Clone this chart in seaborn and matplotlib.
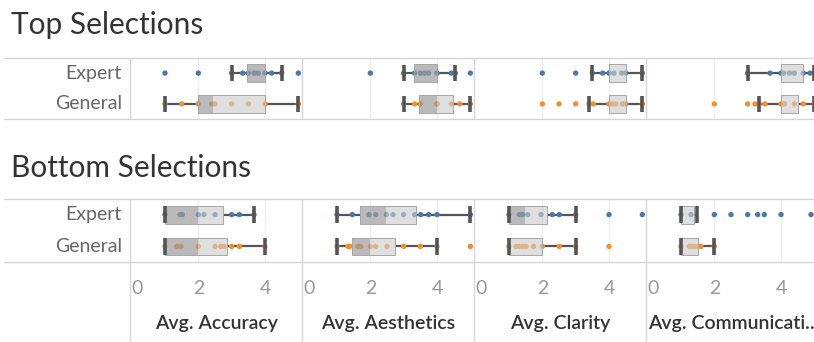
import pandas as pd
import matplotlib.pyplot as plt
from matplotlib.lines import Line2D
import seaborn as sns

# Chart data
metrics = ['Accuracy', 'Aesthetics', 'Clarity', 'Communication']
axis_labels = ['Avg. Accuracy', 'Avg. Aesthetics', 'Avg. Clarity', 'Avg. Communicati..']
groups = ['Expert', 'General']
sections = ['Top Selections', 'Bottom Selections']
x_ticks = [0, 2, 4]

# individual averages (dots), one list per metric
top_expert_pts = [
    [1.0, 2.0, 3.0, 3.33, 3.5, 3.67, 3.8, 4.0, 4.2, 4.5, 5.0],
    [2.0, 3.0, 3.33, 3.5, 3.63, 3.75, 4.0, 4.43, 4.55, 5.0],
    [2.0, 3.0, 3.5, 3.81, 4.0, 4.15, 4.38, 4.5, 5.0],
    [3.0, 3.67, 4.0, 4.08, 4.25, 4.4, 4.67, 4.87, 5.0],
]
top_general_pts = [
    [1.0, 1.5, 2.0, 2.4, 2.5, 3.0, 3.5, 4.0, 5.0],
    [3.0, 3.33, 3.5, 4.0, 4.0, 4.43, 4.68, 5.0],
    [2.0, 2.5, 3.0, 3.4, 3.53, 4.0, 4.1, 4.2, 4.4, 4.5, 5.0],
    [2.0, 3.0, 3.22, 3.35, 3.52, 4.0, 4.1, 4.4, 4.67, 5.0],
]
bottom_expert_pts = [
    [1.0, 1.45, 1.52, 2.0, 2.17, 2.5, 3.0, 3.23, 3.67],
    [1.0, 1.46, 1.96, 2.16, 2.48, 2.68, 3.0, 3.33, 3.51, 3.75, 4.0, 5.0],
    [1.0, 1.31, 1.41, 1.56, 1.96, 2.3, 2.51, 3.0, 4.0, 5.0],
    [1.0, 1.3, 2.0, 2.5, 3.0, 3.3, 3.5, 4.0, 4.9],
]
bottom_general_pts = [
    [1.0, 1.35, 1.48, 2.0, 2.5, 2.67, 2.77, 3.0, 3.23, 4.0],
    [1.0, 1.33, 1.38, 1.63, 1.71, 2.0, 2.16, 2.5, 3.0, 3.5, 4.0, 5.0],
    [1.0, 1.21, 1.31, 1.41, 1.51, 1.74, 2.0, 2.51, 3.0, 4.0],
    [1.0, 1.25, 1.3, 1.4, 1.5, 1.6, 2.0],
]

# box stats per metric: [whisker low, q1, median, q3, whisker high]
top_expert_box = [
    [3.0, 3.45, 4.0, 4.0, 4.5],
    [3.0, 3.31, 4.0, 4.0, 4.55],
    [3.5, 4.0, 4.0, 4.5, 5.0],
    [3.0, 4.0, 4.0, 4.67, 5.0],
]
top_general_box = [
    [1.0, 2.0, 2.45, 4.0, 5.0],
    [3.0, 3.46, 4.0, 4.48, 5.0],
    [3.4, 4.0, 4.0, 4.5, 5.0],
    [3.35, 4.0, 4.0, 4.5, 5.0],
]
bottom_expert_box = [
    [1.0, 1.0, 2.0, 2.73, 3.67],
    [1.0, 1.7, 2.46, 3.38, 5.0],
    [1.0, 1.0, 1.49, 2.14, 3.0],
    [1.0, 1.0, 1.0, 1.38, 1.47],
]
bottom_general_box = [
    [1.0, 1.0, 2.0, 2.87, 4.0],
    [1.0, 1.46, 2.0, 2.73, 4.0],
    [1.0, 1.0, 1.0, 2.0, 3.0],
    [1.0, 1.0, 1.0, 1.5, 2.0],
]

points = {
    ('Top Selections', 'Expert'): top_expert_pts,
    ('Top Selections', 'General'): top_general_pts,
    ('Bottom Selections', 'Expert'): bottom_expert_pts,
    ('Bottom Selections', 'General'): bottom_general_pts,
}
boxes = {
    ('Top Selections', 'Expert'): top_expert_box,
    ('Top Selections', 'General'): top_general_box,
    ('Bottom Selections', 'Expert'): bottom_expert_box,
    ('Bottom Selections', 'General'): bottom_general_box,
}

rows = []
for (sec, grp), lists in points.items():
    for m, vals in zip(metrics, lists):
        for v in vals:
            rows.append({'section': sec, 'group': grp, 'metric': m, 'value': v,
                         'row': groups.index(grp)})
df = pd.DataFrame(rows)

sns.set_theme(style='white')
plt.rcParams['font.family'] = ['Lato', 'DejaVu Sans']

palette = {'Expert': '#4e79a7', 'General': '#f28e2b'}
W, H = 814, 342
fig = plt.figure(figsize=(W / 100, H / 100), dpi=100)

panel_x = [130, 302, 474, 646]
panel_w = 172
sec_y = {'Top Selections': (58, 119), 'Bottom Selections': (199, 262)}
title_base = {'Top Selections': 34, 'Bottom Selections': 177}
grid_c = '#d6d6d6'


def fline(x0, y0, x1, y1, color=grid_c, lw=1.0):
    fig.add_artist(Line2D([x0 / W, x1 / W], [1 - y0 / H, 1 - y1 / H],
                          transform=fig.transFigure, color=color, lw=lw))


for sec in sections:
    y0, y1 = sec_y[sec]
    fig.text(11 / W, 1 - title_base[sec] / H, sec, fontsize=21.5, color='#333333',
             va='baseline', ha='left')
    for gi, grp in enumerate(groups):
        yc = y0 + (y1 - y0) * (0.5 + gi) / 2.0
        fig.text(122 / W, 1 - yc / H, grp, fontsize=14, color='#666666',
                 ha='right', va='center')

    for mi, m in enumerate(metrics):
        ax = fig.add_axes([panel_x[mi] / W, 1 - y1 / H, panel_w / W, (y1 - y0) / H])
        ax.set_facecolor('none')
        for t in [2, 4]:
            ax.axvline(t, color='#eeeeee', lw=1, zorder=0)
        sub = df[(df.section == sec) & (df.metric == m)]
        for gi, grp in enumerate(groups):
            lo, q1, med, q3, hi = boxes[(sec, grp)][mi]
            ax.hlines(gi, lo, q1, color='#555555', lw=1.6, zorder=1)
            ax.hlines(gi, q3, hi, color='#555555', lw=1.6, zorder=1)
        sns.scatterplot(data=sub, x='value', y='row', hue='group', palette=palette,
                        s=15, linewidth=0, legend=False, ax=ax, zorder=2)
        for gi, grp in enumerate(groups):
            lo, q1, med, q3, hi = boxes[(sec, grp)][mi]
            bh = 0.56
            ax.barh(gi, med - q1, left=q1, height=bh, color='#9a9a9a', alpha=0.68,
                    lw=0, zorder=3)
            ax.barh(gi, q3 - med, left=med, height=bh, color='#cccccc', alpha=0.62,
                    lw=0, zorder=3)
            ax.barh(gi, q3 - q1, left=q1, height=bh, fill=False,
                    edgecolor='#a6a6a6', lw=0.7, zorder=3.5)
            ax.vlines([lo, hi], gi - 0.27, gi + 0.27, color='#555555', lw=2.6, zorder=4)
        ax.set_xlim(-0.05, 5.11)
        ax.set_ylim(1.49, -0.49)
        ax.set_xlabel('')
        ax.set_ylabel('')
        ax.set_yticks([])
        for s in ax.spines.values():
            s.set_visible(False)
        if sec == 'Bottom Selections':
            ax.set_xticks(x_ticks)
            ax.set_xticklabels([str(t) for t in x_ticks])
            ax.tick_params(axis='x', length=0, pad=13, labelsize=14, labelcolor='#999999')
            ax.get_xticklabels()[0].set_ha('left')
        else:
            ax.set_xticks([])

    # section frame lines
    fline(4, y0, W, y0)
    fline(4, y1, W, y1)
    for px in panel_x:
        fline(px, y0, px, y1)

# axis area separators and labels
for px in panel_x:
    fline(px, 262, px, H)
label_x = [216, 388, 560, 648]
for i, lab in enumerate(axis_labels):
    ha = 'left' if i == 3 else 'center'
    fig.text(label_x[i] / W, 1 - 323 / H, lab, fontsize=14, color='#333333',
             fontweight='semibold', ha=ha, va='center')

fig.savefig('out.png', dpi=100)
